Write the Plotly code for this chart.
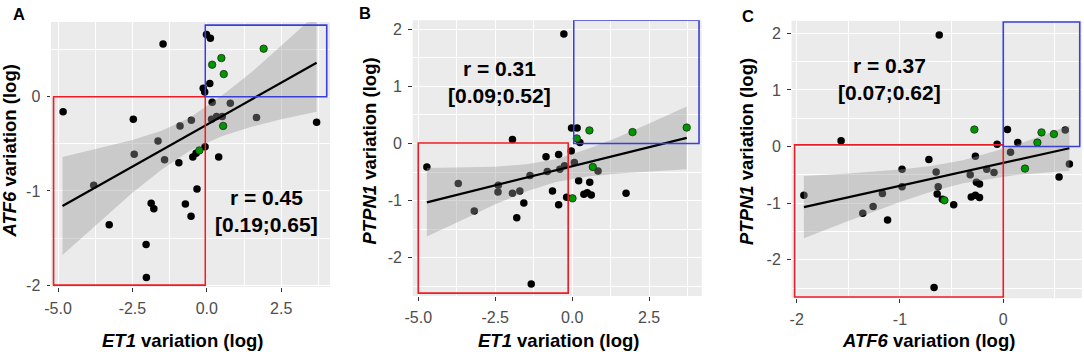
import plotly.graph_objects as go

W, H = 1084, 352

# ---------------- Panel A : ET1 (x) vs ATF6 (y) ----------------
a_x_black = [-1.47, -0.01, 0.12, 0.10, -0.12, -0.07, -4.83, 0.18, 0.79, -2.47, -0.52, 0.16, 0.33,
             0.52, 1.67, 3.69, -0.90, -1.64, -0.06, -2.44, -0.47, -0.36, 0.40, -1.42, -0.94,
             -3.80, -1.87, -1.78, -0.72, -0.33, -0.53, -3.28, -2.04, -2.03]
a_y_black = [0.56, 0.66, 0.62, 0.14, 0.09, 0.05, -0.16, -0.06, -0.07, -0.24, -0.25, -0.24, -0.21,
             -0.21, -0.22, -0.27, -0.31, -0.47, -0.53, -0.61, -0.64, -0.60, -0.64, -0.67, -0.70,
             -0.94, -1.13, -1.19, -1.14, -0.98, -1.27, -1.36, -1.57, -1.92]
a_x_green = [1.91, 0.49, 0.18, 0.57, 0.55, -0.25]
a_y_green = [0.51, 0.41, 0.34, 0.24, -0.31, -0.57]
a_fit_x = [-4.85, 3.69]
a_fit_y = [-1.16, 0.36]
a_band_x = [-4.85, -3.5, -2.5, -1.5, -0.56, 0.5, 1.5, 2.5, 3.69]
a_band_lo = [-1.68, -1.30, -1.02, -0.77, -0.57, -0.42, -0.32, -0.24, -0.16]
a_band_hi = [-0.64, -0.54, -0.46, -0.36, -0.22, 0.01, 0.26, 0.54, 0.88]
a_red_box = [-5.15, -0.05, -2.00, 0.00]
a_blue_box = [-0.05, 4.03, 0.00, 0.76]

# ---------------- Panel B : ET1 (x) vs PTPN1 (y) ----------------
b_x_black = [-0.27, -1.94, -0.02, 0.16, 0.25, -4.72, -0.85, -0.44, -0.03, -0.25, 0.07, 0.84, -1.37,
             -0.81, -0.40, 0.21, 0.57, -3.70, -2.40, -2.41, -1.94, -1.70, -1.57, -3.18, -1.80,
             -0.64, -0.44, -0.18, 0.38, 0.49, 0.62, 1.75, -1.33]
b_y_black = [1.92, 0.07, 0.27, 0.27, 0.02, -0.41, -0.23, -0.19, -0.13, -0.39, -0.33, -0.48, -0.56,
             -0.49, -0.45, -0.65, -0.68, -0.70, -0.73, -0.85, -0.87, -0.83, -1.04, -1.18, -1.30,
             -0.83, -1.07, -0.94, -0.89, -0.86, -0.90, -0.87, -2.46]
b_x_green = [0.56, 1.96, 3.72, 0.15, 0.67, 0.01]
b_y_green = [0.23, 0.20, 0.28, 0.09, -0.41, -0.96]
b_fit_x = [-4.72, 3.72]
b_fit_y = [-1.03, 0.10]
b_band_x = [-4.72, -3.5, -2.5, -1.5, -0.56, 0.5, 1.5, 2.5, 3.72]
b_band_lo = [-1.63, -1.32, -1.065, -0.842, -0.678, -0.577, -0.524, -0.491, -0.45]
b_band_hi = [-0.43, -0.42, -0.405, -0.362, -0.278, -0.097, 0.116, 0.349, 0.65]
b_red_box = [-5.00, -0.13, -2.62, 0.01]
b_blue_box = [0.05, 4.12, 0.00, 2.16]

# ---------------- Panel C : ATF6 (x) vs PTPN1 (y) ----------------
c_x_black = [-0.62, -1.57, 0.04, 0.60, 0.14, -0.06, 0.07, -0.72, -0.27, -0.98, -0.65, -0.32, -0.16,
             -0.09, 0.64, 0.54, -0.26, -0.23, -0.63, -0.64, -0.59, -0.48, -0.31, -0.27, -0.23,
             -1.93, -1.17, -0.98, -1.26, -1.36, -1.12, -0.67]
c_y_black = [1.97, 0.10, 0.30, 0.29, 0.07, 0.04, -0.10, -0.23, -0.17, -0.40, -0.45, -0.50, -0.40,
             -0.46, -0.31, -0.54, -0.63, -0.66, -0.71, -0.84, -0.93, -1.03, -0.89, -0.86, -0.90,
             -0.86, -0.83, -0.71, -1.06, -1.18, -1.30, -2.49]
c_x_green = [-0.28, 0.37, 0.49, 0.33, 0.21, -0.57]
c_y_green = [0.30, 0.25, 0.22, 0.07, -0.39, -0.95]
c_fit_x = [-1.93, 0.64]
c_fit_y = [-1.07, -0.03]
c_band_x = [-1.93, -1.5, -1.0, -0.7, -0.39, 0.1, 0.64]
c_band_lo = [-1.62, -1.316, -0.98, -0.80, -0.649, -0.508, -0.43]
c_band_hi = [-0.52, -0.476, -0.406, -0.344, -0.243, 0.012, 0.37]
c_red_box = [-2.02, 0.00, -2.66, 0.03]
c_blue_box = [0.00, 0.74, 0.00, 2.20]

# ---------------- Labels ----------------
panel_letters = ["A", "B", "C"]
x_genes = ["ET1", "ET1", "ATF6"]
y_genes = ["ATF6", "PTPN1", "PTPN1"]
r_values = ["0.45", "0.31", "0.37"]
r_cis = ["[0.19;0.65]", "[0.09;0.52]", "[0.07;0.62]"]
xtick_et1 = [-5.0, -2.5, 0.0, 2.5]
xtick_et1_text = ["-5.0", "-2.5", "0.0", "2.5"]
xminor_et1 = [-3.75, -1.25, 1.25, 3.75]
xtick_atf6 = [-2, -1, 0]
xtick_atf6_text = ["-2", "-1", "0"]
xminor_atf6 = [-1.5, -0.5, 0.5]
ytick_atf6 = [-2, -1, 0]
ytick_atf6_text = ["-2", "-1", "0"]
yminor_atf6 = [-1.5, -0.5, 0.5]
ytick_ptpn1 = [-2, -1, 0, 1, 2]
ytick_ptpn1_text = ["-2", "-1", "0", "1", "2"]
yminor_ptpn1 = [-2.5, -1.5, -0.5, 0.5, 1.5]

FONT = "Arial, 'Liberation Sans', sans-serif"
GREEN = "#009600"
RED = "#EE1C24"
BLUE = "#3A3FD8"
BAND = "rgba(153,153,153,0.4)"

panels = [
    dict(xb=a_x_black, yb=a_y_black, xg=a_x_green, yg=a_y_green, fx=a_fit_x, fy=a_fit_y,
         bx=a_band_x, blo=a_band_lo, bhi=a_band_hi, red=a_red_box, blue=a_blue_box,
         xpx=(51, 330), ypx=(22, 287), xr=[-5.236, 4.14], yr=[-2.02, 0.793],
         xt=xtick_et1, xtt=xtick_et1_text, xm=xminor_et1,
         yt=ytick_atf6, ytt=ytick_atf6_text, ym=yminor_atf6,
         letter=(19, 14), xtitle=(182.5, 340), ytitle=(9, 151.5), rpos=(266.5, 211)),
    dict(xb=b_x_black, yb=b_y_black, xg=b_x_green, yg=b_y_green, fx=b_fit_x, fy=b_fit_y,
         bx=b_band_x, blo=b_band_lo, bhi=b_band_hi, red=b_red_box, blue=b_blue_box,
         xpx=(412.7, 701.8), ypx=(20.2, 296), xr=[-5.18, 4.21], yr=[-2.67, 2.16],
         xt=xtick_et1, xtt=xtick_et1_text, xm=xminor_et1,
         yt=ytick_ptpn1, ytt=ytick_ptpn1_text, ym=yminor_ptpn1,
         letter=(365, 13.5), xtitle=(558, 340), ytitle=(369, 151.5), rpos=(499, 81.5)),
    dict(xb=c_x_black, yb=c_y_black, xg=c_x_green, yg=c_y_green, fx=c_fit_x, fy=c_fit_y,
         bx=c_band_x, blo=c_band_lo, bhi=c_band_hi, red=c_red_box, blue=c_blue_box,
         xpx=(791.5, 1081.8), ypx=(20.9, 298.2), xr=[-2.05, 0.76], yr=[-2.68, 2.22],
         xt=xtick_atf6, xtt=xtick_atf6_text, xm=xminor_atf6,
         yt=ytick_ptpn1, ytt=ytick_ptpn1_text, ym=yminor_ptpn1,
         letter=(747.5, 16), xtitle=(928, 340), ytitle=(746.5, 151.5), rpos=(889.5, 78.5)),
]

fig = go.Figure()
layout = {}
shapes = []
annotations = []

def px(xp):
    return xp / W

def py(yp):
    return 1 - yp / H

for i, p in enumerate(panels):
    n = "" if i == 0 else str(i + 1)
    xa, ya = "x" + n, "y" + n
    # black points
    fig.add_trace(go.Scatter(x=p["xb"], y=p["yb"], mode="markers", xaxis=xa, yaxis=ya,
                             marker=dict(color="black", size=7.5, line=dict(width=0)),
                             hoverinfo="skip"))
    # confidence band
    fig.add_trace(go.Scatter(x=p["bx"] + p["bx"][::-1], y=p["bhi"] + p["blo"][::-1],
                             mode="lines", fill="toself", fillcolor=BAND,
                             line=dict(width=0), xaxis=xa, yaxis=ya, hoverinfo="skip"))
    # regression line
    fig.add_trace(go.Scatter(x=p["fx"], y=p["fy"], mode="lines", xaxis=xa, yaxis=ya,
                             line=dict(color="black", width=2.2), hoverinfo="skip"))
    # green points
    fig.add_trace(go.Scatter(x=p["xg"], y=p["yg"], mode="markers", xaxis=xa, yaxis=ya,
                             marker=dict(color=GREEN, size=7.5, line=dict(width=0.7, color="#1a1a1a")),
                             hoverinfo="skip"))

    axis_common = dict(showgrid=True, gridcolor="white", gridwidth=1.3, zeroline=False,
                       showline=False, ticks="outside", ticklen=3.5, tickwidth=1,
                       tickcolor="#333333", tickfont=dict(family=FONT, size=16, color="#4D4D4D"),
                       fixedrange=True, tickmode="array", automargin=False)
    layout["xaxis" + n] = dict(axis_common, domain=[px(p["xpx"][0]), px(p["xpx"][1])],
                               range=p["xr"], anchor=ya, tickvals=p["xt"], ticktext=p["xtt"],
                               minor=dict(tickvals=p["xm"], showgrid=True, gridcolor="white",
                                          gridwidth=0.7, ticks=""),
                               ticklabelstandoff=3)
    layout["yaxis" + n] = dict(axis_common, domain=[py(p["ypx"][1]), py(p["ypx"][0])],
                               range=p["yr"], anchor=xa, tickvals=p["yt"], ticktext=p["ytt"],
                               minor=dict(tickvals=p["ym"], showgrid=True, gridcolor="white",
                                          gridwidth=0.7, ticks=""),
                               ticklabelstandoff=3)

    for box, col in ((p["red"], RED), (p["blue"], BLUE)):
        shapes.append(dict(type="rect", xref=xa, yref=ya, x0=box[0], x1=box[1], y0=box[2], y1=box[3],
                           line=dict(color=col, width=1.6), fillcolor="rgba(0,0,0,0)", layer="above"))

    annotations.append(dict(text="<b>" + panel_letters[i] + "</b>", x=px(p["letter"][0]),
                            y=py(p["letter"][1]), xref="paper", yref="paper", showarrow=False,
                            xanchor="center", yanchor="middle",
                            font=dict(family=FONT, size=16.5, color="black")))
    annotations.append(dict(text="<b><i>" + x_genes[i] + "</i> variation (log)</b>",
                            x=px(p["xtitle"][0]), y=py(p["xtitle"][1]), xref="paper", yref="paper",
                            showarrow=False, xanchor="center", yanchor="middle",
                            font=dict(family=FONT, size=18.5, color="black")))
    annotations.append(dict(text="<b><i>" + y_genes[i] + "</i> variation (log)</b>",
                            x=px(p["ytitle"][0]), y=py(p["ytitle"][1]), xref="paper", yref="paper",
                            showarrow=False, xanchor="center", yanchor="middle", textangle=-90,
                            font=dict(family=FONT, size=18.5, color="black")))
    annotations.append(dict(text="<b>r = " + r_values[i] + "<br>" + r_cis[i] + "</b>",
                            x=px(p["rpos"][0]), y=py(p["rpos"][1]), xref="paper", yref="paper",
                            showarrow=False, xanchor="center", yanchor="middle", align="center",
                            font=dict(family=FONT, size=21, color="black")))

fig.update_layout(template="none", width=W, height=H, margin=dict(l=0, r=0, t=0, b=0),
                  autosize=False, paper_bgcolor="white", plot_bgcolor="#EBEBEB", showlegend=False,
                  shapes=shapes, annotations=annotations, **layout)

fig.write_html("out.html", config={"displayModeBar": False},
               post_script="document.body.style.margin='0';document.body.style.overflow='hidden';")
